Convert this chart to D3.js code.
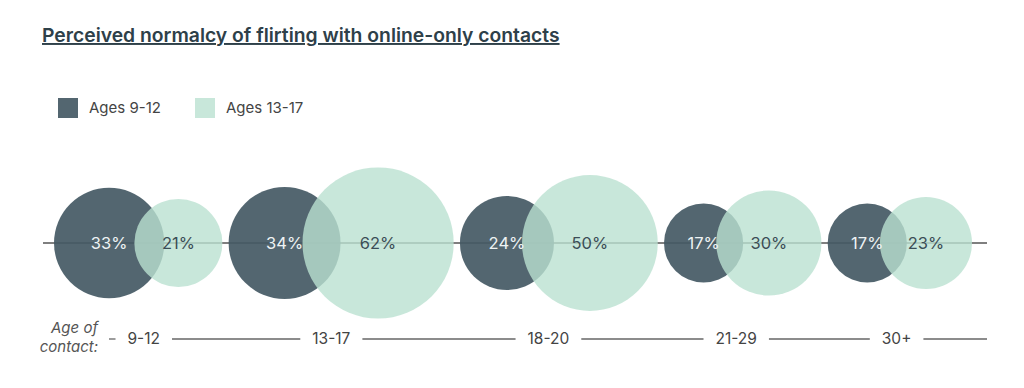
<!DOCTYPE html>
<html>
<head>
<meta charset="utf-8">
<script src="https://cdn.jsdelivr.net/npm/d3@7"></script>
<style>
  html, body { margin: 0; padding: 0; background: #fff; }
  svg { display: block; }
</style>
</head>
<body>
<svg id="chart" width="1024" height="388"></svg>
<script>
// ---- data ----
const title = "Perceived normalcy of flirting with online-only contacts";
const contactAges = ["9-12", "13-17", "18-20", "21-29", "30+"];
const ages9to12 = [33, 34, 24, 17, 17];
const ages13to17 = [21, 62, 50, 30, 23];
const seriesNames = ["Ages 9-12", "Ages 13-17"];
const axisTitle = ["Age of", "contact:"];

// ---- style ----
const darkFill = "rgb(68,89,100)";
const lightFill = "rgb(186,225,209)";
const font = "Inter, 'Noto Sans', sans-serif";

const svg = d3.select("#chart");

// radius scale (area proportional)
const r = d3.scaleSqrt().domain([0, 100]).range([0, 96]);

// layout: pairs overlap by a fraction of the smaller radius, groups spaced to fill
const overlapFrac = 0.68;
const groups = contactAges.map((c, i) => {
  const rd = r(ages9to12[i]), rl = r(ages13to17[i]);
  const ov = overlapFrac * Math.min(rd, rl);
  return { c, i, rd, rl, ov, w: 2 * rd + 2 * rl - ov };
});
const totalW = d3.sum(groups, g => g.w);
const left = 54, right = 972;
const gap = (right - left - totalW) / (groups.length - 1);
let cur = left;
groups.forEach(g => {
  g.xd = cur + g.rd;
  g.xl = cur + 2 * g.rd - g.ov + g.rl;
  g.xm = (g.xd + g.xl) / 2;
  cur += g.w + gap;
});

const cy = 243;

// ---- title ----
const t = svg.append("text")
  .attr("x", 42).attr("y", 42)
  .attr("font-family", font).attr("font-size", 19).attr("font-weight", 600)
  .attr("fill", "#2e4049")
  .style("text-decoration", "underline")
  .text(title);
const tw = t.node().getComputedTextLength();
t.attr("font-size", 19 * 518 / tw);

// ---- legend ----
const legend = svg.append("g");
const legendX = [58, 195];
seriesNames.forEach((name, i) => {
  legend.append("rect").attr("x", legendX[i]).attr("y", 98).attr("width", 20).attr("height", 20)
    .attr("fill", i === 0 ? darkFill : lightFill).attr("fill-opacity", i === 0 ? 0.92 : 0.8);
  legend.append("text").attr("x", legendX[i] + 31).attr("y", 108).attr("dy", "0.35em")
    .attr("font-family", font).attr("font-size", 15).attr("fill", "#444")
    .text(name);
});

// ---- centre line ----
svg.append("line").attr("x1", 43).attr("x2", 987).attr("y1", cy).attr("y2", cy)
  .attr("stroke", "#555").attr("stroke-width", 1.3);

// ---- circles ----
const cg = svg.append("g");
cg.selectAll("circle.dark").data(groups).join("circle").attr("class", "dark")
  .attr("cx", d => d.xd).attr("cy", cy).attr("r", d => d.rd)
  .attr("fill", darkFill).attr("fill-opacity", 0.92);
cg.selectAll("circle.light").data(groups).join("circle").attr("class", "light")
  .attr("cx", d => d.xl).attr("cy", cy).attr("r", d => d.rl)
  .attr("fill", lightFill).attr("fill-opacity", 0.8);

cg.selectAll("text.dl").data(groups).join("text").attr("class", "dl")
  .attr("x", d => d.xd).attr("y", cy).attr("dy", "0.35em").attr("text-anchor", "middle")
  .attr("font-family", font).attr("font-size", 16.5).attr("fill", "#eef3f4")
  .text(d => ages9to12[d.i] + "%");
cg.selectAll("text.ll").data(groups).join("text").attr("class", "ll")
  .attr("x", d => d.xl).attr("y", cy).attr("dy", "0.35em").attr("text-anchor", "middle")
  .attr("font-family", font).attr("font-size", 16.5).attr("fill", "#3b4d56")
  .text(d => ages13to17[d.i] + "%");

// ---- bottom axis ----
const ay = 339;
const axis = svg.append("g");
const labels = axis.selectAll("text.ax").data(groups).join("text").attr("class", "ax")
  .attr("x", d => d.xm).attr("y", ay).attr("dy", "0.35em").attr("text-anchor", "middle")
  .attr("font-family", font).attr("font-size", 15.5).attr("fill", "#444")
  .text(d => d.c);
const pad = 12;
const bounds = [];
labels.each(function(d) {
  const w = this.getComputedTextLength();
  bounds.push([d.xm - w / 2 - pad, d.xm + w / 2 + pad]);
});
let sx = 109;
bounds.forEach(b => {
  axis.append("line").attr("x1", sx).attr("x2", b[0]).attr("y1", ay).attr("y2", ay)
    .attr("stroke", "#666").attr("stroke-width", 1.3);
  sx = b[1];
});
axis.append("line").attr("x1", sx).attr("x2", 987).attr("y1", ay).attr("y2", ay)
  .attr("stroke", "#666").attr("stroke-width", 1.3);

axisTitle.forEach((s, i) => {
  axis.append("text").attr("x", 98).attr("y", 333 + i * 19).attr("text-anchor", "end")
    .attr("font-family", font).attr("font-size", 15).attr("font-style", "italic")
    .attr("fill", "#555").text(s);
});
</script>
</body>
</html>
